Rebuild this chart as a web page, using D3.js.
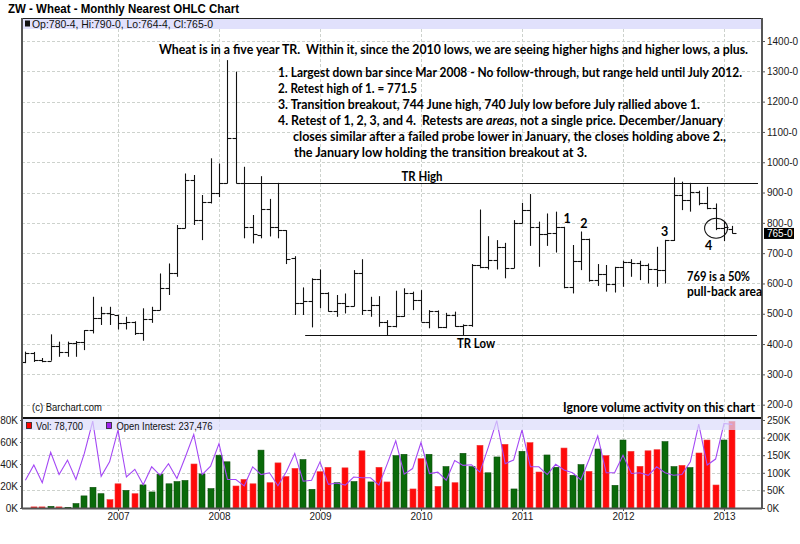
<!DOCTYPE html>
<html>
<head>
<meta charset="utf-8">
<script src="https://cdn.jsdelivr.net/npm/d3@7"></script>
<style>
  html, body { margin: 0; padding: 0; background: #fff; }
  svg { display: block; }
  text { white-space: pre; }
</style>
</head>
<body>
<svg id="chart" width="800" height="544"></svg>
<script>
// ---- Monthly nearest wheat futures, Feb 2006 .. Feb 2013 (cents/bushel) ----
const months = d3.timeMonth.range(new Date(2006, 1, 1), new Date(2013, 2, 1));

const opens = [340,372,348,345,395,375,402,407,446,485,503,
  496,468,474,437,482,514,584,633,782,941,811,870,
  897,930,1079,930,787,760,846,786,775,683,536,543,
  614,570,509,534,526,636,512,529,474,459,494,567,
  545,474,510,455,496,460,463,661,655,677,721,652,
  798,844,787,763,768,785,587,675,746,611,631,598,
  655,670,667,661,649,646,742,892,877,903,864,848,
  782,780.5];

const highs = [375,374,354,432,408,408,410,446,556,523,523,
  497,490,475,518,523,633,666,793,963,958,892,1013,
  996,1337,1299,985,826,954,879,932,776,690,587,617,
  646,571,562,567,644,680,556,558,479,576,584,573,
  578,512,511,503,507,465,664,844,756,743,734,809,
  866,895,804,831,837,787,727,771.5,748,664,661,655,
  675,680,675,666,721,744,950,936,932,906,919,864,
  805,790];

const lows = [337,341,340,345,358,358,358,380,435,463,463,
  448,448,430,411,470,512,562,622,782,793,743,864,
  885,930,930,749,732,749,755,749,664,496,496,455,
  518,507,490,501,524,496,490,457,428,455,490,512,
  474,452,452,452,457,428,457,650,646,646,617,650,
  798,724,655,724,702,584,567,644,606,592,573,570,
  589,622,611,600,589,600,740,842,837,858,845,776,
  740,764.5];

const closes = [372,348,345,395,375,402,407,446,485,503,499,
  468,474,437,482,514,584,633,782,941,811,870,897,
  932,1079,930,787,763,846,786,778,681,536,543,614,
  570,509,534,526,636,512,529,474,459,494,567,545,
  474,510,455,496,460,463,661,655,677,721,652,798,
  844,787,763,768,785,587,675,746,611,631,598,655,
  670,667,661,649,646,742,892,877,903,864,848,782,
  785,765];

const volumes = [0,1000,1000,1500,1000,600,4000,11000,18800,13000,7600,
  22000,16000,13000,21000,14600,30700,22000,24000,25000,40000,31000,17600,
  48000,42000,20000,26000,22000,52600,23000,41000,28600,36000,44000,17000,
  33000,37000,23000,36500,24000,52000,23700,37000,23700,47600,48800,17300,
  44800,48800,19700,37600,23000,49700,37600,57000,32000,46400,57900,17300,
  51500,59400,32700,48200,37000,54500,29700,39400,33300,53600,47600,20600,
  61800,51500,37900,52000,53000,60300,37600,38800,36700,50000,61800,20900,
  61800,78700];

const openInterest = [79000,122000,72000,158000,95000,136000,81000,155000,247000,90000,131000,
  221000,88000,110000,66000,117000,93000,126000,84000,145000,209000,95000,119000,
  183000,81000,81000,63000,117000,95000,100000,63000,103000,155000,76000,79000,
  131000,67000,71000,65000,88000,86000,86000,65000,126000,191000,96000,112000,
  186000,98000,102000,79000,135000,121000,123000,102000,173000,248000,126000,136000,
  222000,117000,117000,95000,124000,108000,100000,80000,140000,205000,100000,100000,
  150000,98000,100000,93000,117000,100000,93000,95000,131000,238000,122000,139000,
  240000,237476];

// axis ticks
const priceTicks = [200,300,400,500,600,700,800,900,1000,1100,1200,1300,1400];
const volumeTicks = [0,20000,40000,60000,80000];
const oiTicks = [0,50000,100000,150000,200000,250000];
const yearTicks = [2007,2008,2009,2010,2011,2012,2013];

// trading range levels and annotated bars
const trHigh = 930, trLow = 430;
const trHighStart = new Date(2008, 3, 1), trLowStart = new Date(2008, 10, 1);
const markers = [
  { label: "1", month: new Date(2011, 5, 1) },
  { label: "2", month: new Date(2011, 7, 1) },
  { label: "3", month: new Date(2012, 5, 1) }
];
const retestMonth = new Date(2012, 11, 1);

const title = "ZW - Wheat - Monthly Nearest OHLC Chart";
const notes = [
  [{ t: "Wheat is in a five year TR.  Within it, since the 2010 lows, we are seeing higher highs and higher lows, a plus." }],
  [{ t: "1. Largest down bar since Mar 2008 - No follow-through, but range held until July 2012." }],
  [{ t: "2. Retest high of 1. = 771.5" }],
  [{ t: "3. Transition breakout, 744 June high, 740 July low before July rallied above 1." }],
  [{ t: "4. Retest of 1, 2, 3, and 4.  Retests are " }, { t: "areas", i: true }, { t: ", not a single price. December/January" }],
  [{ t: "closes similar after a failed probe lower in January, the closes holding above 2.," }],
  [{ t: "the January low holding the transition breakout at 3." }]
];
const pullbackNote = ["769 is a 50%", "pull-back area"];
const volumeNote = "Ignore volume activity on this chart";

// ---- layout ----
const left = 22, right = 762;
const priceTop = 18, priceBottom = 418, volTop = 418, volBottom = 508;
const headerH = 11;
const axisFont = "Liberation Sans, Arial, sans-serif";
const noteFont = "Lato, 'Open Sans', sans-serif";

const svg = d3.select("#chart");

const monthIndex = d => (d.getFullYear() - 2006) * 12 + d.getMonth();
const x = d3.scaleLinear().domain([0, 84]).range([17, 724]);
const xm = d => x(monthIndex(d));
const yPrice = d3.scaleLinear().domain([156, 1476]).range([priceBottom, priceTop]);
const yVol = d3.scaleLinear().domain([0, 80000]).range([volBottom, 420]);
const yOI = d3.scaleLinear().domain([0, 250000]).range([volBottom, 420]);

const bars = months.map((m, i) => ({
  m, o: opens[i], h: highs[i], l: lows[i], c: closes[i],
  v: volumes[i], oi: openInterest[i],
  up: i === 0 ? true : closes[i] >= closes[i - 1]
}));
const last = bars[bars.length - 1];
const eighths = v => `${Math.floor(v)}-${Math.round((v - Math.floor(v)) * 8)}`;
const px = v => Math.round(v) + 0.5;

// ---- title ----
svg.append("text").attr("x", 8).attr("y", 12.5)
  .attr("font-family", axisFont).attr("font-weight", "bold").attr("font-size", 12.5)
  .attr("textLength", 231).attr("lengthAdjust", "spacingAndGlyphs")
  .text(title);

// ---- panel background ----
svg.append("rect").attr("x", left).attr("y", priceTop).attr("width", right - left)
  .attr("height", volBottom - priceTop).attr("fill", "#fff");

// grid
const grid = svg.append("g").attr("stroke", "#cdd2cd").attr("stroke-dasharray", "3,2").attr("stroke-width", 1);
grid.selectAll("line.hp").data(priceTicks.filter(p => yPrice(p) > priceTop + headerH)).join("line")
  .attr("x1", left).attr("x2", right).attr("y1", d => px(yPrice(d))).attr("y2", d => px(yPrice(d)));
grid.selectAll("line.hv").data(oiTicks.filter(v => v > 0 && v < 250000)).join("line")
  .attr("x1", left).attr("x2", right).attr("y1", d => px(yOI(d))).attr("y2", d => px(yOI(d)));
grid.selectAll("line.vy").data(yearTicks).join("line")
  .attr("x1", d => px(xm(new Date(d, 0, 1)))).attr("x2", d => px(xm(new Date(d, 0, 1))))
  .attr("y1", priceTop + headerH).attr("y2", volBottom);

// ---- volume bars ----
svg.append("g").selectAll("rect").data(bars.filter(b => b.v > 0)).join("rect")
  .attr("x", b => Math.round(xm(b.m)) - 3).attr("width", 6)
  .attr("y", b => yVol(b.v)).attr("height", b => volBottom - yVol(b.v))
  .attr("fill", b => b.up ? "#0a6a0a" : "#ff0a0a")
  .attr("stroke", b => b.up ? "#0d4f0d" : "#f03c3c").attr("stroke-width", 0.6);

// open interest line
svg.append("path").datum(bars)
  .attr("d", d3.line().x(b => xm(b.m)).y(b => yOI(b.oi)))
  .attr("fill", "none").attr("stroke", "#a448f5").attr("stroke-width", 1.1);

// ---- OHLC bars ----
const ohlc = svg.append("g").attr("stroke", "#111").attr("stroke-width", 1.1);
bars.forEach(b => {
  const cx = px(xm(b.m));
  ohlc.append("line").attr("x1", cx).attr("x2", cx).attr("y1", yPrice(b.h)).attr("y2", yPrice(b.l));
  ohlc.append("line").attr("x1", cx - 4).attr("x2", cx).attr("y1", px(yPrice(b.o))).attr("y2", px(yPrice(b.o)));
  ohlc.append("line").attr("x1", cx).attr("x2", cx + 4).attr("y1", px(yPrice(b.c))).attr("y2", px(yPrice(b.c)));
});

// trading range lines
svg.append("line").attr("x1", xm(trHighStart) - 2).attr("x2", right - 4)
  .attr("y1", px(yPrice(trHigh))).attr("y2", px(yPrice(trHigh))).attr("stroke", "#111");
svg.append("line").attr("x1", xm(trLowStart) + 2).attr("x2", right - 5)
  .attr("y1", px(yPrice(trLow))).attr("y2", px(yPrice(trLow))).attr("stroke", "#111");

// ---- header bands (drawn over marks) ----
svg.append("rect").attr("x", left).attr("y", priceTop).attr("width", right - left).attr("height", headerH)
  .attr("fill", "#dcdcfb").attr("opacity", 0.85);
svg.append("rect").attr("x", left).attr("y", volTop + 1).attr("width", right - left).attr("height", headerH)
  .attr("fill", "#dcdcfb").attr("opacity", 0.7);

// header legends
svg.append("rect").attr("x", 25).attr("y", 20.5).attr("width", 5).attr("height", 6).attr("fill", "#111");
svg.append("text").attr("x", 32).attr("y", 27.5).attr("font-family", axisFont).attr("font-size", 10.5)
  .attr("fill", "#111").attr("textLength", 181).attr("lengthAdjust", "spacingAndGlyphs")
  .text(`Op:${eighths(last.o)}, Hi:${eighths(last.h)}, Lo:${eighths(last.l)}, Cl:${eighths(last.c)}`);

const fmtInt = d3.format(",");
svg.append("rect").attr("x", 26.5).attr("y", 422.5).attr("width", 5).attr("height", 6)
  .attr("fill", "#ff0000").attr("stroke", "#222").attr("stroke-width", 0.8);
svg.append("text").attr("x", 36).attr("y", 429.5).attr("font-family", axisFont).attr("font-size", 10.5)
  .attr("fill", "#111").attr("textLength", 47).attr("lengthAdjust", "spacingAndGlyphs")
  .text(`Vol: ${fmtInt(last.v)}`);
svg.append("rect").attr("x", 106.5).attr("y", 422.5).attr("width", 5).attr("height", 6)
  .attr("fill", "#a020f0").attr("stroke", "#222").attr("stroke-width", 0.8);
svg.append("text").attr("x", 116.5).attr("y", 429.5).attr("font-family", axisFont).attr("font-size", 10.5)
  .attr("fill", "#111").attr("textLength", 96).attr("lengthAdjust", "spacingAndGlyphs")
  .text(`Open Interest: ${fmtInt(last.oi)}`);

svg.append("text").attr("x", 32).attr("y", 410.5).attr("font-family", axisFont).attr("font-size", 10.5)
  .attr("fill", "#111").attr("textLength", 70).attr("lengthAdjust", "spacingAndGlyphs")
  .text("(c) Barchart.com");

// ---- frames ----
svg.append("line").attr("x1", left).attr("x2", right).attr("y1", priceTop + 0.5).attr("y2", priceTop + 0.5)
  .attr("stroke", "#222");
svg.append("line").attr("x1", left).attr("x2", right).attr("y1", volTop).attr("y2", volTop)
  .attr("stroke", "#111").attr("stroke-width", 2);
svg.append("line").attr("x1", left).attr("x2", left).attr("y1", priceTop).attr("y2", volBottom + 1)
  .attr("stroke", "#555").attr("stroke-width", 2);

// ---- axes ----
const styleAxis = g => {
  g.select(".domain").attr("stroke", "#555").attr("stroke-width", 2);
  g.selectAll(".tick line").attr("stroke", "#555");
  g.selectAll(".tick text").attr("font-family", axisFont).attr("font-size", 10).attr("fill", "#1a1a1a");
};

svg.append("g").attr("transform", `translate(${right},0)`)
  .call(d3.axisRight(yPrice).tickValues(priceTicks).tickSize(3).tickPadding(2)
    .tickFormat(d => `${d}-0`).tickSizeOuter(0))
  .call(g => g.select(".domain").attr("d", `M0,${priceTop}V${priceBottom}`))
  .call(styleAxis);

svg.append("g").attr("transform", `translate(${right},0)`)
  .call(d3.axisRight(yOI).tickValues(oiTicks).tickSize(3).tickPadding(2)
    .tickFormat(d => `${d / 1000}K`).tickSizeOuter(0))
  .call(g => g.select(".domain").attr("d", `M0,${volTop}V${volBottom + 1}`))
  .call(styleAxis);

svg.append("g").attr("transform", `translate(${left},0)`)
  .call(d3.axisLeft(yVol).tickValues(volumeTicks).tickSize(2).tickPadding(2)
    .tickFormat(d => `${d / 1000}K`).tickSizeOuter(0))
  .call(g => g.select(".domain").remove())
  .call(styleAxis);

// year axis on the month-index scale
svg.append("g").attr("transform", `translate(0,${volBottom})`)
  .call(d3.axisBottom(x).tickValues(yearTicks.map(yv => (yv - 2006) * 12))
    .tickSize(3).tickPadding(2).tickFormat(d => `${2006 + d / 12}`).tickSizeOuter(0))
  .call(g => g.select(".domain").attr("d", `M${left},0.5H${right}`))
  .call(styleAxis);

// last price marker
const lastY = yPrice(last.c);
svg.append("rect").attr("x", 764).attr("y", lastY - 5.5).attr("width", 30).attr("height", 11).attr("fill", "#000");
svg.append("text").attr("x", 767).attr("y", lastY + 3.6).attr("font-family", axisFont).attr("font-size", 10)
  .attr("fill", "#fff").text(`${eighths(last.c)}`);

// ---- annotations ----
const noteLayout = [
  { x: 159, y: 54, w: 589 },
  { x: 278, y: 77, w: 464 },
  { x: 278, y: 93, w: 139 },
  { x: 278, y: 109, w: 422 },
  { x: 278, y: 125, w: 445 },
  { x: 293, y: 141, w: 433 },
  { x: 294, y: 157, w: 293 }
];
notes.forEach((segs, i) => {
  const L = noteLayout[i];
  const t = svg.append("text").attr("x", L.x).attr("y", L.y)
    .attr("font-family", noteFont).attr("font-weight", "bold").attr("font-size", 12.5).attr("fill", "#000")
    .attr("textLength", L.w).attr("lengthAdjust", "spacingAndGlyphs");
  segs.forEach(s => t.append("tspan").attr("font-style", s.i ? "italic" : null).text(s.t));
});

const boldText = (txt, xx, yy, w) => svg.append("text").attr("x", xx).attr("y", yy)
  .attr("font-family", noteFont).attr("font-weight", "bold").attr("font-size", 12.5).attr("fill", "#000")
  .attr("textLength", w).attr("lengthAdjust", "spacingAndGlyphs").text(txt);

boldText("TR High", 401.5, yPrice(trHigh) - 2.5, 41);
boldText("TR Low", 457, yPrice(trLow) + 13.5, 38);
boldText(pullbackNote[0], 687, 281, 63);
boldText(pullbackNote[1], 687, 296, 75);
boldText(volumeNote, 563, 412, 192);

markers.forEach(mk => {
  const b = bars.find(d => +d.m === +mk.month);
  svg.append("text").attr("x", xm(b.m) + (mk.label === "3" ? -0.5 : 3)).attr("y", yPrice(b.h) - 3.5)
    .attr("text-anchor", "middle").attr("font-family", noteFont).attr("font-weight", "bold")
    .attr("font-size", 12.5).text(mk.label);
});

const rb = bars.find(d => +d.m === +retestMonth);
svg.append("ellipse").attr("cx", xm(rb.m) + 0.5).attr("cy", yPrice(rb.c))
  .attr("rx", 11.5).attr("ry", 10).attr("fill", "none").attr("stroke", "#111").attr("stroke-width", 1.1);
svg.append("text").attr("x", xm(rb.m) - 7).attr("y", yPrice(rb.l) + 20)
  .attr("text-anchor", "middle").attr("font-family", noteFont).attr("font-weight", "bold")
  .attr("font-size", 12.5).text("4");
</script>
</body>
</html>
